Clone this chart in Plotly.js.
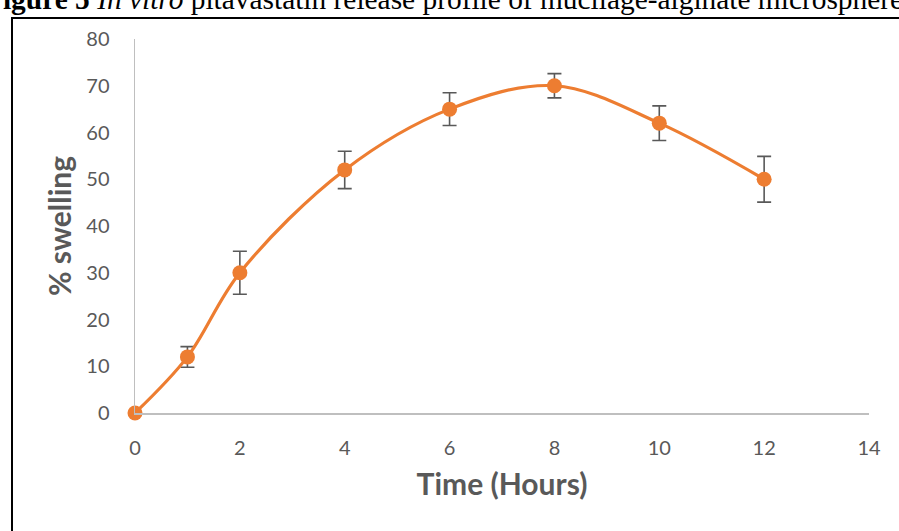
<!DOCTYPE html>
<html>
<head>
<meta charset="utf-8">
<script src="https://cdn.plot.ly/plotly-3.0.1.min.js"></script>
<style>
html,body{margin:0;padding:0;background:#fff;}
#chart{width:899px;height:531px;}
</style>
</head>
<body>
<div id="chart"></div>
<script>
// Data
const timeHours = [0, 1, 2, 4, 6, 8, 10, 12];
const swelling  = [0, 12, 30, 52, 65, 70, 62, 50];
const swellErr  = [0, 2.2, 4.6, 4.0, 3.5, 2.6, 3.7, 4.9];
const xTicks = [0, 2, 4, 6, 8, 10, 12, 14];
const yTicks = [0, 10, 20, 30, 40, 50, 60, 70, 80];
const captionText = '<b>Figure 5</b> <i>In vitro</i> pitavastatin release profile of mucilage-alginate microspheres';
const xTitle = 'Time (Hours)';
const yTitle = '% swelling';

const orange = '#ED7D31';
const grey = '#595959';

const trace = {
  x: timeHours,
  y: swelling,
  type: 'scatter',
  mode: 'lines+markers',
  cliponaxis: false,
  line: {color: orange, width: 3.2, shape: 'spline', smoothing: 1},
  marker: {color: orange, size: 15},
  error_y: {type: 'data', array: swellErr, visible: true, color: grey, thickness: 1.6, width: 7},
  hoverinfo: 'x+y'
};

const layout = {
  width: 899, height: 531,
  margin: {l: 135, r: 30, t: 39, b: 118, pad: 0},
  paper_bgcolor: '#fff', plot_bgcolor: '#fff',
  showlegend: false,
  font: {family: 'Lato, sans-serif', color: grey},
  xaxis: {
    range: [0, 14], tickvals: xTicks, ticktext: xTicks.map(String),
    showgrid: false, zeroline: false, showline: true, linecolor: '#BFBFBF', linewidth: 1.5,
    ticks: '', ticklabelstandoff: 16, tickfont: {size: 20, color: grey},
    title: {text: '<b>' + xTitle + '</b>', font: {size: 30, color: grey}, standoff: 16}
  },
  yaxis: {
    range: [0, 80], tickvals: yTicks, ticktext: yTicks.map(String),
    showgrid: false, zeroline: false, showline: true, linecolor: '#BFBFBF', linewidth: 1.5,
    ticks: '', ticklabelstandoff: 20, tickfont: {size: 20, color: grey},
    title: {text: '<b>' + yTitle + '</b>', font: {size: 30, color: grey}, standoff: 6}
  },
  shapes: [{
    type: 'rect', xref: 'paper', yref: 'paper',
    x0: (12 - 135) / 734, x1: 1.2, y0: -0.5, y1: (413 - 18) / 374,
    line: {color: '#000', width: 2}, fillcolor: 'rgba(0,0,0,0)', layer: 'below'
  }],
  annotations: [{
    xref: 'paper', yref: 'paper',
    x: (-17 - 135) / 734, y: (413 + 1) / 374,
    xanchor: 'left', yanchor: 'middle',
    text: captionText, showarrow: false,
    font: {family: 'Liberation Serif, Times New Roman, serif', size: 29.4, color: '#000'}
  }]
};

Plotly.newPlot('chart', [trace], layout, {displayModeBar: false, staticPlot: true});
</script>
</body>
</html>
